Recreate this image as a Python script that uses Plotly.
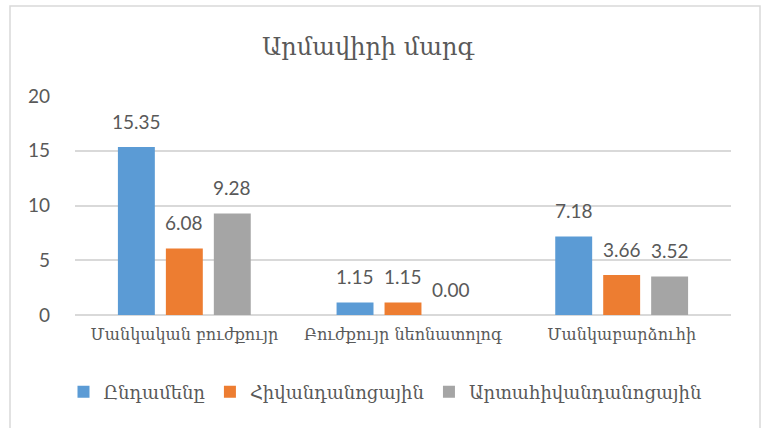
import plotly.graph_objects as go

# Data
categories = ["Մանկական բուժքույր", "Բուժքույր նեոնատոլոգ", "Մանկաբարձուհի"]
series_names = ["Ընդամենը", "Հիվանդանոցային", "Արտահիվանդանոցային"]
total = [15.35, 1.15, 7.18]
hospital = [6.08, 1.15, 3.66]
outpatient = [9.28, 0.00, 3.52]
y_ticks = [0, 5, 10, 15, 20]

colors = ["#5B9BD5", "#ED7D31", "#A5A5A5"]
text_color = "#595959"
num_font = "Lato, DejaVu Serif, sans-serif"
arm_font = "DejaVu Serif, serif"

W, H = 769, 428
L, R, T, B = 75, 38, 96, 113
BARGAP, GROUPGAP = 0.342, 0.23

pw = W - L - R
ph = H - T - B
slot_px = pw / len(categories) * (1 - BARGAP) / 3

fig = go.Figure()
all_series = [total, hospital, outpatient]
for k, (name, vals, col) in enumerate(zip(series_names, all_series, colors)):
    fig.add_trace(go.Bar(
        name=name,
        x=categories,
        y=vals,
        marker=dict(color=col, line=dict(width=0)),
    ))
    # value labels above each bar
    for cat, v in zip(categories, vals):
        fig.add_annotation(
            x=cat, y=v, xref="x", yref="y",
            text=f"{v:.2f}", showarrow=False,
            xshift=(k - 1) * slot_px, yshift=12,
            yanchor="bottom", xanchor="center",
            font=dict(family=num_font, size=19, color=text_color),
        )

# Light grey frame around the whole chart area
fig.add_shape(
    type="rect", xref="paper", yref="paper",
    x0=(10 - L) / pw, x1=(760 - L) / pw,
    y0=(H - B - 440) / ph, y1=(H - B - 6) / ph,
    line=dict(color="#D9D9D9", width=1.5), fillcolor="rgba(0,0,0,0)",
    layer="below",
)

fig.update_layout(
    width=W, height=H,
    margin=dict(l=L, r=R, t=T, b=B),
    paper_bgcolor="white", plot_bgcolor="white",
    barmode="group", bargap=BARGAP, bargroupgap=GROUPGAP,
    title=dict(
        text="Արմավիրի մարգ",
        font=dict(family=arm_font, size=24, color=text_color),
        x=368 / W, xref="container", xanchor="center",
        y=1 - 47 / H, yref="container", yanchor="middle",
    ),
    xaxis=dict(
        showgrid=False, showline=False, ticks="",
        ticklabelstandoff=8,
        tickfont=dict(family=arm_font, size=16, color=text_color),
    ),
    yaxis=dict(
        range=[0, 20], tickvals=y_ticks, ticktext=[str(v) for v in y_ticks],
        showgrid=True, gridcolor="#D9D9D9", gridwidth=1.5,
        zeroline=True, zerolinecolor="#D9D9D9", zerolinewidth=1.5,
        showline=False, ticks="", ticklabelstandoff=24,
        tickfont=dict(family=num_font, size=19, color=text_color),
    ),
    legend=dict(
        orientation="h",
        x=385 / W, xref="container", xanchor="center",
        y=1 - 392 / H, yref="container", yanchor="middle",
        font=dict(family=arm_font, size=18, color=text_color),
        itemwidth=30, traceorder="normal",
    ),
    showlegend=True,
)

fig.write_html("out.html")
